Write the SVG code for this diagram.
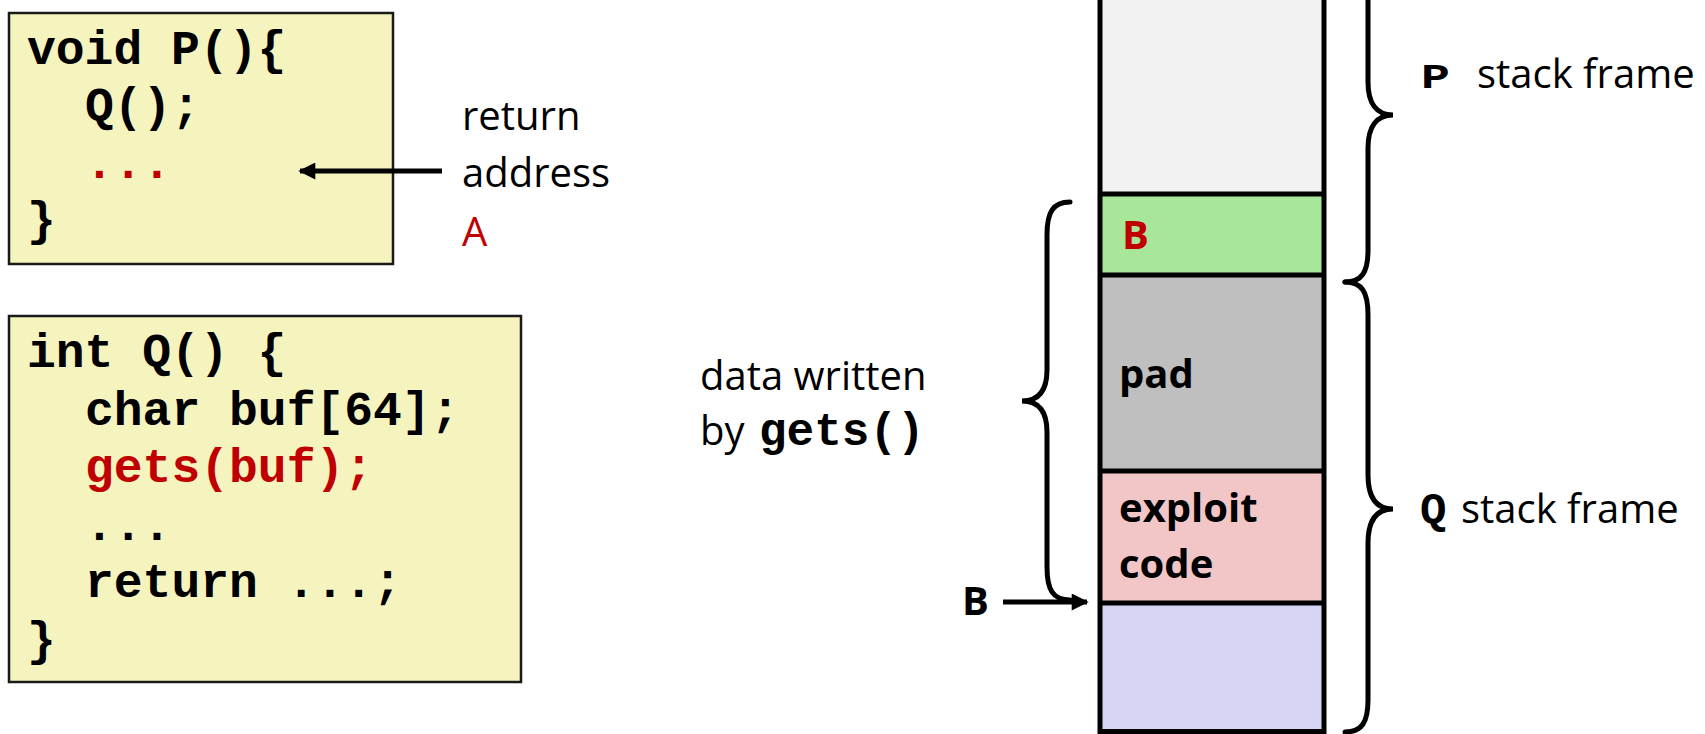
<svg xmlns="http://www.w3.org/2000/svg" width="1705" height="734" viewBox="0 0 1705 734">
  <style>
    .code { font-family: "Liberation Mono", "Courier New", monospace; font-weight: bold; font-size: 48px; fill: #000; }
    .sans { font-family: "Open Sans", "Noto Sans", sans-serif; font-size: 40px; fill: #000; }
    .bold { font-weight: bold; }
    .red { fill: #C00000; }
    .box { fill: #F5F4BF; stroke: #1a1a1a; stroke-width: 2.5; }
    .cell { stroke: #000; stroke-width: 5; }
    .brace { fill: none; stroke: #000; stroke-width: 5; stroke-linecap: round; }
    .conn { stroke: #000; stroke-width: 5; fill: none; }
  </style>
  <defs>
    <marker id="arrow" viewBox="0 0 10 10" refX="9" refY="5" markerWidth="3.8" markerHeight="3.4" markerUnits="strokeWidth" orient="auto">
      <path d="M0,0 L10,5 L0,10 z" fill="#000"/>
    </marker>
  </defs>
  <rect x="0" y="0" width="1705" height="734" fill="#fff"/>

  <g id="p-code">
    <rect class="box" x="9" y="13" width="384" height="251"/>
    <text class="code" x="27" y="64">void P(){</text>
    <text class="code" x="85" y="121">Q();</text>
    <text class="code red" x="85" y="178">...</text>
    <text class="code" x="27" y="235">}</text>
  </g>

  <g id="q-code">
    <rect class="box" x="9" y="316" width="512" height="366"/>
    <text class="code" x="27" y="367">int Q() {</text>
    <text class="code" x="85" y="425">char buf[64];</text>
    <text class="code red" x="85" y="482">gets(buf);</text>
    <text class="code" x="85" y="540">...</text>
    <text class="code" x="85" y="597">return ...;</text>
    <text class="code" x="27" y="655">}</text>
  </g>

  <g id="return-label">
    <text class="sans" x="462" y="130">return</text>
    <text class="sans" x="462" y="187">address</text>
    <text class="sans red" x="462" y="246">A</text>
  </g>

  <g id="gets-label">
    <text class="sans" x="700" y="390">data written</text>
    <text class="sans" x="700" y="445">by <tspan class="code" x="759" style="font-size:46px">gets()</tspan></text>
  </g>

  <g id="stack">
    <g id="cell-p">
      <rect x="1100" y="-10" width="224" height="204" fill="#F2F2F2"/>
    </g>
    <g id="cell-b">
      <rect x="1100" y="194" width="224" height="81" fill="#A8E69A"/>
      <text class="sans bold red" x="1122" y="249">B</text>
    </g>
    <g id="cell-pad">
      <rect x="1100" y="275" width="224" height="196" fill="#BFBFBF"/>
      <text class="sans bold" x="1119" y="388">pad</text>
    </g>
    <g id="cell-exploit">
      <rect x="1100" y="471" width="224" height="132" fill="#F2C6C6"/>
      <text class="sans bold" x="1119" y="522">exploit</text>
      <text class="sans bold" x="1119" y="578">code</text>
    </g>
    <g id="cell-bottom">
      <rect x="1100" y="603" width="224" height="129" fill="#D6D6F4"/>
    </g>
    <g id="cell-borders">
      <line class="cell" x1="1100" y1="-10" x2="1100" y2="734"/>
      <line class="cell" x1="1324" y1="-10" x2="1324" y2="734"/>
      <line class="cell" x1="1098" y1="194" x2="1326" y2="194"/>
      <line class="cell" x1="1098" y1="275" x2="1326" y2="275"/>
      <line class="cell" x1="1098" y1="471" x2="1326" y2="471"/>
      <line class="cell" x1="1098" y1="603" x2="1326" y2="603"/>
      <line class="cell" x1="1098" y1="731.5" x2="1326" y2="731.5"/>
    </g>
  </g>

  <g id="p-frame">
    <path class="brace" d="M1345,282 C1362,282 1368,272 1368,250 L1368,148 C1368,127 1376,115 1393,115 C1376,115 1368,103 1368,82 L1368,-20 C1368,-42 1362,-52 1345,-52"/>
    <text class="code" transform="translate(1421,88) scale(1,0.75)">P</text>
    <text class="sans" x="1477" y="88">stack frame</text>
  </g>

  <g id="q-frame">
    <path class="brace" d="M1345,282 C1362,282 1368,292 1368,315 L1368,475 C1368,497 1376,509 1393,509 C1376,509 1368,521 1368,543 L1368,700 C1368,722 1362,732 1345,732"/>
    <text class="sans" x="1420" y="523"><tspan class="code" style="font-size:44px">Q</tspan><tspan x="1461">stack frame</tspan></text>
  </g>

  <g id="gets-brace">
    <path class="brace" d="M1070,202 C1053,202 1047,212 1047,235 L1047,370 C1047,390 1039,401 1022,401 C1039,401 1047,412 1047,432 L1047,567 C1047,590 1053,600 1070,600"/>
  </g>

  <g id="b-label">
    <text class="sans bold" x="962" y="615">B</text>
  </g>

  <g id="connectors">
    <line class="conn" x1="442" y1="171" x2="300" y2="171" marker-end="url(#arrow)"/>
    <line class="conn" x1="1003" y1="602" x2="1087" y2="602" marker-end="url(#arrow)"/>
  </g>
</svg>
